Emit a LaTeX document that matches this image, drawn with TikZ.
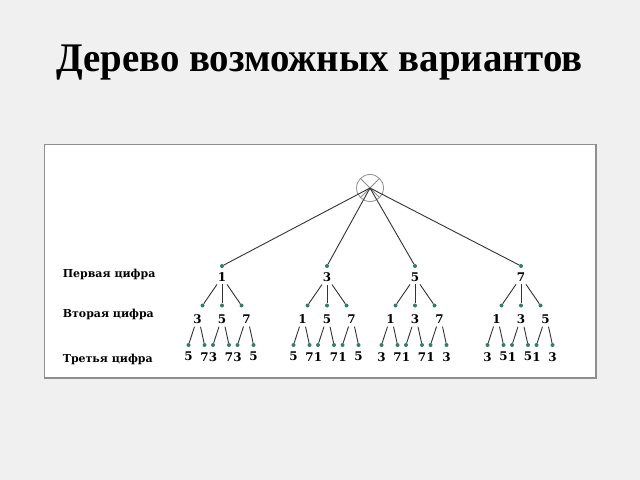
\documentclass[tikz,border=0pt]{standalone}
\usepackage{fontspec}
\setmainfont{DejaVu Serif}
\newfontfamily\titlefont[FakeStretch=0.955]{Liberation Serif}
\usepackage{xcolor}
\usepackage{tikz}
\usetikzlibrary{positioning}

\definecolor{slidegray}{HTML}{F0F0F0}
\definecolor{framegray}{HTML}{8E8E8E}
\definecolor{dotgreen}{HTML}{2F7D6A}
\definecolor{edgegray}{HTML}{333333}

\tikzset{
    dot/.style={circle, fill=dotgreen, inner sep=0pt, minimum size=4bp},
    digit/.style={font=\fontsize{12}{13}\selectfont\bfseries, inner sep=0pt},
    rowlabel/.style={font=\fontsize{11}{13}\selectfont\bfseries, anchor=base west, inner sep=0pt},
    edge/.style={edgegray, line width=0.9bp},
}

\begin{document}
\begin{tikzpicture}[x=1bp, y=-1bp]
    \fill[slidegray] (0,0) rectangle (640,480);
    \useasboundingbox (0,0) rectangle (640,480);

    \node[font=\titlefont\bfseries\fontsize{40.8}{44}\selectfont, anchor=base, inner sep=0pt] (title) at (319.5,72) {Дерево возможных вариантов};
    \draw[framegray, fill=white, line width=1.2bp] (44.5,144.5) rectangle (596,378);

    % root
    \coordinate (r) at (370,188);
    \draw[framegray, line width=0.8bp] (r) circle (13.5bp);
    \draw[framegray, line width=0.8bp] (r) ++(135:13.5) -- ++(-45:27);
    \draw[framegray, line width=0.8bp] (r) ++(45:13.5) -- ++(-135:27);

    % row labels
    \node[rowlabel] (row1) at (62.7,277.3) {Первая цифра};
    \node[rowlabel] (row2) at (62.7,317.3) {Вторая цифра};
    \node[rowlabel] (row3) at (62.7,362.7) {Третья цифра};

    % the tree: first digit, second digit, third digit
    \foreach \g/\X/\kids in {1/222/{3/5/7,5/3/7,7/3/5}, 3/327/{1/5/7,5/1/7,7/1/5},
                             5/415/{1/3/7,3/1/7,7/1/3}, 7/521/{1/3/5,3/1/5,5/1/3}} {
        \node[dot] (p\g) at (\X,266) {};
        \node[digit] (pl\g) at (\X,277.5) {\g};
        \draw[edge] (r) -- (p\g);
        \foreach \d/\a/\b [count=\k] in \kids {
            \node[dot] (s\g\d) at ({\X+(\k-2)*19.5},305.5) {};
            \node[digit] (sl\g\d) at ({\X+(\k-2)*24.5},319) {\d};
            \draw[edge] ([xshift={(\k-2)*5bp}, yshift=-2.3bp]pl\g.south) -- (s\g\d);
            \node[dot] (t\g\d\a) at ({\X+(\k-2)*24.5-9},345) {};
            \node[dot] (t\g\d\b) at ({\X+(\k-2)*24.5+7},345) {};
            \node[digit] (tl\g\d\a) at ({\X+(\k-2)*24.5-9},356.7) {\a};
            \node[digit] (tl\g\d\b) at ({\X+(\k-2)*24.5+7},356.7) {\b};
            \draw[edge] ([xshift=-3bp, yshift=-3bp]sl\g\d.south) -- (t\g\d\a);
            \draw[edge] ([xshift=3bp, yshift=-3bp]sl\g\d.south) -- (t\g\d\b);
        }
    }
\end{tikzpicture}
\end{document}
